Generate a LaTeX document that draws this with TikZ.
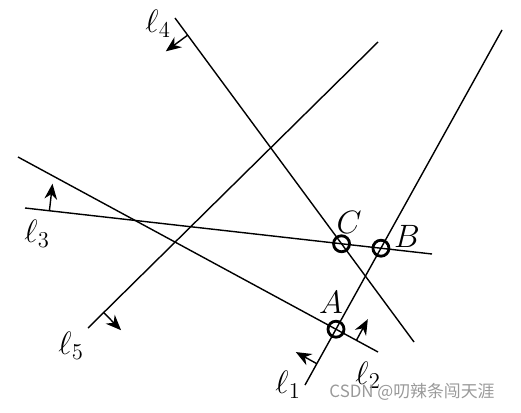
\documentclass[tikz,border=0pt]{standalone}
\usepackage{fix-cm}
\usepackage{amsmath}
\usepackage{fontspec}
\usepackage{tikz}
\usetikzlibrary{calc,arrows.meta}
\newfontfamily\cjk{Noto Sans CJK SC}
\tikzset{>={Stealth[length=11pt,width=9pt]}}
\tikzset{
  ln/.style={line width=1pt},
  nrm/.style={line width=1pt,->},
  pt/.style={circle,draw,line width=2pt,minimum size=0.4cm,inner sep=0pt},
  lab/.style={font=\fontsize{23}{27}\selectfont}
}

\begin{document}
\begin{tikzpicture}
    \useasboundingbox (0,0) rectangle (13.025,10.3);

    \coordinate (l1a) at (7.625, 0.675);  \coordinate (l1b) at (12.55, 9.55);
    \coordinate (l2a) at (0.45, 6.375);   \coordinate (l2b) at (9.45, 1.5);
    \coordinate (l3a) at (0.625, 5.1);    \coordinate (l3b) at (10.8, 3.95);
    \coordinate (l4a) at (4.375, 9.85);   \coordinate (l4b) at (10.35, 1.75);
    \coordinate (l5a) at (2.2, 2.1);      \coordinate (l5b) at (9.45, 9.25);

    \draw[ln] (l1a)--(l1b);
    \draw[ln] (l2a)--(l2b);
    \draw[ln] (l3a)--(l3b);
    \draw[ln] (l4a)--(l4b);
    \draw[ln] (l5a)--(l5b);

    \coordinate (s1) at ($(l1a)!0.06!(l1b)$);
    \coordinate (t1) at ($(s1)!0.6cm!90:(l1b)$);
    \coordinate (s2) at ($(l2a)!0.94!(l2b)$);
    \coordinate (t2) at ($(s2)!0.6cm!90:(l2b)$);
    \coordinate (s3) at ($(l3a)!0.06!(l3b)$);
    \coordinate (t3) at ($(s3)!0.68cm!90:(l3b)$);
    \coordinate (s4) at ($(l4a)!0.053!(l4b)$);
    \coordinate (t4) at ($(s4)!0.68cm!-90:(l4b)$);
    \coordinate (s5) at ($(l5a)!0.054!(l5b)$);
    \coordinate (t5) at ($(s5)!0.62cm!-90:(l5b)$);

    \draw[nrm] (s1)--(t1);
    \draw[nrm] (s2)--(t2);
    \draw[nrm] (s3)--(t3);
    \draw[nrm] (s4)--(t4);
    \draw[nrm] (s5)--(t5);

    \node[pt] (A) at (intersection of l1a--l1b and l2a--l2b) {};
    \node[pt] (B) at (intersection of l1a--l1b and l3a--l3b) {};
    \node[pt] (C) at (intersection of l3a--l3b and l4a--l4b) {};

    \node[lab] at (8.275, 2.75) (labA) {$A$};
    \node[lab] at (10.175, 4.4) (labB) {$B$};
    \node[lab] at (8.725, 4.75) (labC) {$C$};

    \node[lab] at (7.2, 0.675)  (n1) {$\ell_1$};
    \node[lab] at (9.2, 0.92)   (n2) {$\ell_2$};
    \node[lab] at (0.925, 4.45) (n3) {$\ell_3$};
    \node[lab] at (3.95, 9.7)   (n4) {$\ell_4$};
    \node[lab] at (1.775, 1.65) (n5) {$\ell_5$};

    \node[gray!80,font=\cjk\fontsize{12}{14}\selectfont] at (10.3, 0.5) (wm) {CSDN @叨辣条闯天涯};
\end{tikzpicture}
\end{document}
